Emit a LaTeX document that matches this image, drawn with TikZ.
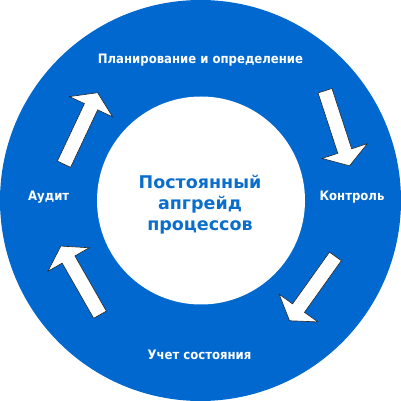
\documentclass[tikz,border=0pt]{standalone}
\usepackage{fontspec}
\setmainfont{DejaVu Sans}
\newfontfamily\condfont{DejaVu Sans Condensed}
\definecolor{ringblue}{RGB}{0,104,206}
\definecolor{textblue}{RGB}{10,110,205}
\tikzset{
  lbl/.style={text=white, font=\condfont\bfseries\fontsize{13}{15}\selectfont, inner sep=0pt, anchor=base},
  ctr/.style={text=textblue, font=\bfseries\fontsize{17.5}{21}\selectfont, align=center, inner sep=0pt},
  arrowstyle/.style={fill=white, draw=black!85, line width=0.6pt, line join=miter},
  blockarrow/.pic={
    \draw[arrowstyle] (0,-7.3) -- (63.5,-7.3) -- (63.5,-23.8) -- (79,0) -- (63.5,23.8) -- (63.5,7.3) -- (0,7.3) -- cycle;
  }
}
\begin{document}
\begin{tikzpicture}[x=1pt,y=1pt]
\useasboundingbox (0,0) rectangle (401,401);
\fill[ringblue] (200.5,200.5) circle (200.5);
\fill[white] (201,200.5) circle (104);
\pic[rotate=-71.9] at (325,310.3) {blockarrow};
\pic[rotate=-125.5] at (335.4,144.6) {blockarrow};
\pic[rotate=119.7] at (100,86.3) {blockarrow};
\pic[rotate=64.8] at (64,236.8) {blockarrow};
\node[lbl] (plan) at (200.5,337) {Планирование и определение};
\node[lbl] (ctrl) at (352,200.3) {Контроль};
\node[lbl] (audit) at (48.7,200.3) {Аудит};
\node[lbl] (state) at (199.5,41) {Учет состояния};
\node[ctr] (core) at (200,196) {Постоянный\\апгрейд\\процессов};
\end{tikzpicture}
\end{document}
